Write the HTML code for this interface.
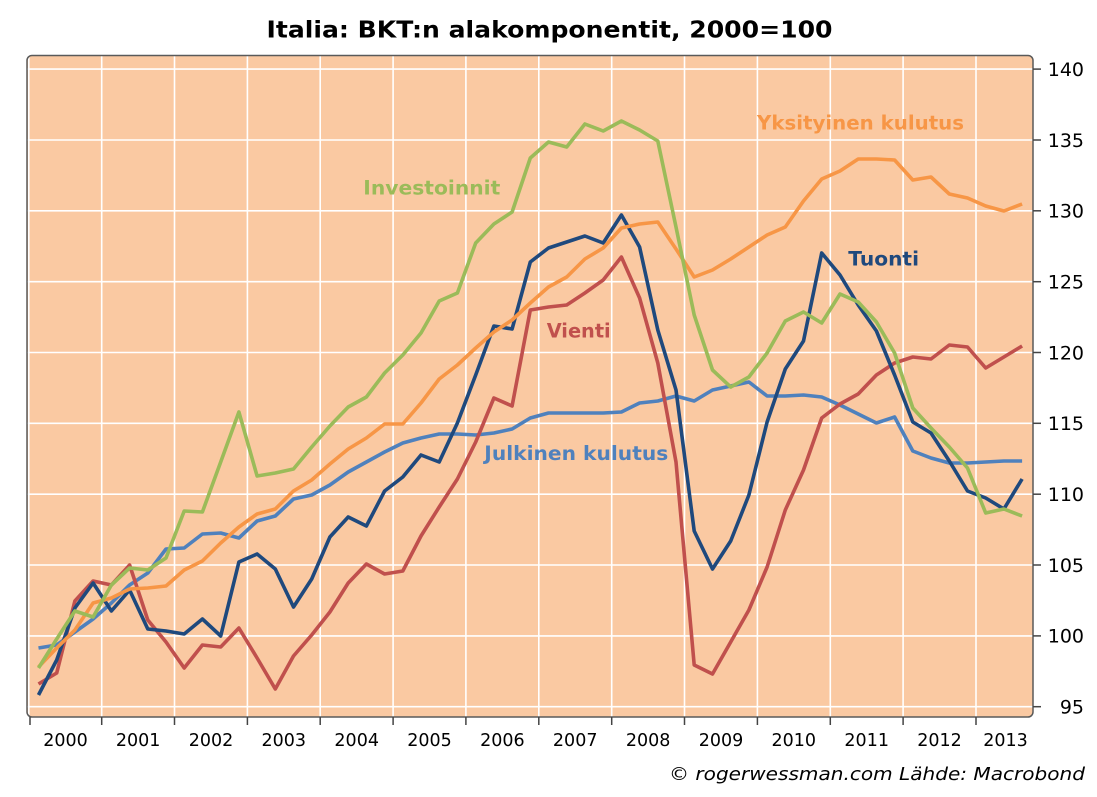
<!DOCTYPE html>
<html>
<head>
<meta charset="utf-8">
<style>
html,body{margin:0;padding:0;background:#ffffff;}
svg{display:block;}
text{font-family:"DejaVu Sans","Liberation Sans",sans-serif;}
</style>
</head>
<body>
<svg width="1097" height="797" viewBox="0 0 1097 797" xmlns="http://www.w3.org/2000/svg">
<rect x="0" y="0" width="1097" height="797" fill="#ffffff"/>
<!-- Title -->
<text x="266.5" y="37.7" font-size="23" font-weight="bold" fill="#000" textLength="566" lengthAdjust="spacingAndGlyphs">Italia: BKT:n alakomponentit, 2000=100</text>

<defs>
<clipPath id="pc"><rect x="27" y="55.5" width="1006" height="661.5" rx="5"/></clipPath>
</defs>

<!-- plot background -->
<rect x="27" y="55.5" width="1006" height="661.5" rx="5" fill="#FAC9A2"/>

<g clip-path="url(#pc)">
<!-- horizontal grid -->
<g stroke="#ffffff" stroke-width="1.6">
<line x1="27" x2="1033" y1="706.7" y2="706.7"/>
<line x1="27" x2="1033" y1="635.9" y2="635.9"/>
<line x1="27" x2="1033" y1="565.0" y2="565.0"/>
<line x1="27" x2="1033" y1="494.2" y2="494.2"/>
<line x1="27" x2="1033" y1="423.3" y2="423.3"/>
<line x1="27" x2="1033" y1="352.5" y2="352.5"/>
<line x1="27" x2="1033" y1="281.7" y2="281.7"/>
<line x1="27" x2="1033" y1="210.8" y2="210.8"/>
<line x1="27" x2="1033" y1="140.0" y2="140.0"/>
<line x1="27" x2="1033" y1="69.1" y2="69.1"/>
</g>
<!-- vertical grid -->
<g stroke="#ffffff" stroke-width="1.6">
<line y1="55" y2="717" x1="28.8" x2="28.8"/>
<line y1="55" y2="717" x1="101.7" x2="101.7"/>
<line y1="55" y2="717" x1="174.5" x2="174.5"/>
<line y1="55" y2="717" x1="247.4" x2="247.4"/>
<line y1="55" y2="717" x1="320.2" x2="320.2"/>
<line y1="55" y2="717" x1="393.1" x2="393.1"/>
<line y1="55" y2="717" x1="465.9" x2="465.9"/>
<line y1="55" y2="717" x1="538.8" x2="538.8"/>
<line y1="55" y2="717" x1="611.7" x2="611.7"/>
<line y1="55" y2="717" x1="684.5" x2="684.5"/>
<line y1="55" y2="717" x1="757.4" x2="757.4"/>
<line y1="55" y2="717" x1="830.3" x2="830.3"/>
<line y1="55" y2="717" x1="903.1" x2="903.1"/>
<line y1="55" y2="717" x1="976.0" x2="976.0"/>
</g>

<g fill="none" stroke-width="3.6" stroke-linejoin="round" stroke-linecap="butt">
<!-- Julkinen kulutus -->
<polyline stroke="#4F81BD" points="38.5,648 56.7,645 74.9,632 93.1,619 111.4,603 129.6,585 147.8,573 166.0,549 184.2,548 202.4,534 220.7,533 238.9,538 257.1,521 275.3,516 293.5,499 311.7,495 329.9,485 348.2,472 366.4,462 384.6,452 402.8,443 421.0,438 439.2,434 457.4,434 475.7,435 493.9,433 512.1,429 530.3,418 548.5,413 566.7,413 584.9,413 603.2,413 621.4,412 639.6,403 657.8,401 676.0,396 694.2,401 712.5,390 730.7,386 748.9,382 767.1,396 785.3,396 803.5,395 821.7,397 840.0,405 858.2,414 876.4,423 894.6,417 912.8,451 931.0,458 949.3,463 967.5,463 985.7,462 1003.9,461 1022.1,461"/>
<!-- Vienti -->
<polyline stroke="#C0504D" points="38.5,684 56.7,673 74.9,601 93.1,581 111.4,585 129.6,565 147.8,620 166.0,642 184.2,668 202.4,645 220.7,647 238.9,628 257.1,658 275.3,689 293.5,656 311.7,635 329.9,612 348.2,583 366.4,564 384.6,574 402.8,571 421.0,536 439.2,507 457.4,479 475.7,442 493.9,398 512.1,406 530.3,310 548.5,307 566.7,305 584.9,293 603.2,280 621.4,257 639.6,298 657.8,363 676.0,462 694.2,665 712.5,674 730.7,642 748.9,610 767.1,567 785.3,510 803.5,470 821.7,418 840.0,404 858.2,394 876.4,375 894.6,363 912.8,357 931.0,359 949.3,345 967.5,347 985.7,368 1003.9,357 1022.1,346"/>
<!-- Tuonti -->
<polyline stroke="#1F497D" points="38.5,695 56.7,660 74.9,608 93.1,583 111.4,611 129.6,590 147.8,629 166.0,631 184.2,634 202.4,619 220.7,636 238.9,562 257.1,554 275.3,569 293.5,607 311.7,579 329.9,537 348.2,517 366.4,526 384.6,491 402.8,477 421.0,455 439.2,462 457.4,423 475.7,375 493.9,326 512.1,329 530.3,262 548.5,248 566.7,242 584.9,236 603.2,243 621.4,215 639.6,247 657.8,330 676.0,390 694.2,531 712.5,569 730.7,541 748.9,495 767.1,422 785.3,369 803.5,341 821.7,253 840.0,275 858.2,305 876.4,331 894.6,375 912.8,422 931.0,433 949.3,461 967.5,491 985.7,498 1003.9,509 1022.1,479"/>
<!-- Yksityinen kulutus -->
<polyline stroke="#F79646" points="38.5,667 56.7,648 74.9,630 93.1,603 111.4,598 129.6,589 147.8,588 166.0,586 184.2,570 202.4,561 220.7,543 238.9,527 257.1,514 275.3,509 293.5,491 311.7,480 329.9,464 348.2,449 366.4,438 384.6,424 402.8,424 421.0,403 439.2,379 457.4,365 475.7,348 493.9,332 512.1,320 530.3,303 548.5,287 566.7,277 584.9,259 603.2,248 621.4,228 639.6,224 657.8,222 676.0,249 694.2,277 712.5,270 730.7,259 748.9,247 767.1,235 785.3,227 803.5,201 821.7,179 840.0,171 858.2,159 876.4,159 894.6,160 912.8,180 931.0,177 949.3,194 967.5,198 985.7,206 1003.9,211 1022.1,204"/>
<!-- Investoinnit -->
<polyline stroke="#9BBB59" points="38.5,668 56.7,639 74.9,611 93.1,617 111.4,585 129.6,568 147.8,570 166.0,558 184.2,511 202.4,512 220.7,462 238.9,412 257.1,476 275.3,473 293.5,469 311.7,447 329.9,426 348.2,407 366.4,397 384.6,373 402.8,355 421.0,333 439.2,301 457.4,293 475.7,243 493.9,224 512.1,212 530.3,158 548.5,142 566.7,147 584.9,124 603.2,131 621.4,121 639.6,130 657.8,141 676.0,227 694.2,315 712.5,370 730.7,387 748.9,377 767.1,353 785.3,321 803.5,312 821.7,323 840.0,294 858.2,302 876.4,322 894.6,353 912.8,408 931.0,428 949.3,447 967.5,468 985.7,513 1003.9,509 1022.1,516"/>
</g>

<!-- annotations -->
<g font-weight="bold" font-size="19.5">
<text x="363.3" y="194.3" fill="#9BBB59" textLength="137" lengthAdjust="spacingAndGlyphs">Investoinnit</text>
<text x="757" y="129.5" fill="#F79646" textLength="207" lengthAdjust="spacingAndGlyphs">Yksityinen kulutus</text>
<text x="848.3" y="265.7" fill="#1F497D" textLength="70.7" lengthAdjust="spacingAndGlyphs">Tuonti</text>
<text x="546.7" y="337.3" fill="#C0504D" textLength="64" lengthAdjust="spacingAndGlyphs">Vienti</text>
<text x="484.3" y="460" fill="#4F81BD" textLength="184" lengthAdjust="spacingAndGlyphs">Julkinen kulutus</text>
</g>
</g>

<!-- frame -->
<rect x="27" y="55.5" width="1006" height="661.5" rx="5" fill="none" stroke="#5a5a5a" stroke-width="1.5"/>

<!-- right ticks -->
<g stroke="#444" stroke-width="1.5">
<line x1="1033" x2="1041" y1="706.7" y2="706.7"/>
<line x1="1033" x2="1041" y1="635.9" y2="635.9"/>
<line x1="1033" x2="1041" y1="565.0" y2="565.0"/>
<line x1="1033" x2="1041" y1="494.2" y2="494.2"/>
<line x1="1033" x2="1041" y1="423.3" y2="423.3"/>
<line x1="1033" x2="1041" y1="352.5" y2="352.5"/>
<line x1="1033" x2="1041" y1="281.7" y2="281.7"/>
<line x1="1033" x2="1041" y1="210.8" y2="210.8"/>
<line x1="1033" x2="1041" y1="140.0" y2="140.0"/>
<line x1="1033" x2="1041" y1="69.1" y2="69.1"/>
</g>
<!-- bottom ticks -->
<g stroke="#444" stroke-width="1.5">
<line y1="717" y2="725" x1="30" x2="30"/>
<line y1="717" y2="725" x1="101.7" x2="101.7"/>
<line y1="717" y2="725" x1="174.5" x2="174.5"/>
<line y1="717" y2="725" x1="247.4" x2="247.4"/>
<line y1="717" y2="725" x1="320.2" x2="320.2"/>
<line y1="717" y2="725" x1="393.1" x2="393.1"/>
<line y1="717" y2="725" x1="465.9" x2="465.9"/>
<line y1="717" y2="725" x1="538.8" x2="538.8"/>
<line y1="717" y2="725" x1="611.7" x2="611.7"/>
<line y1="717" y2="725" x1="684.5" x2="684.5"/>
<line y1="717" y2="725" x1="757.4" x2="757.4"/>
<line y1="717" y2="725" x1="830.3" x2="830.3"/>
<line y1="717" y2="725" x1="903.1" x2="903.1"/>
<line y1="717" y2="725" x1="976.0" x2="976.0"/>
</g>

<!-- right axis labels -->
<g font-size="19" fill="#000" text-anchor="end">
<text x="1084" y="713.5">95</text>
<text x="1084" y="642.7">100</text>
<text x="1084" y="571.8">105</text>
<text x="1084" y="501.0">110</text>
<text x="1084" y="430.1">115</text>
<text x="1084" y="359.3">120</text>
<text x="1084" y="288.5">125</text>
<text x="1084" y="217.6">130</text>
<text x="1084" y="146.8">135</text>
<text x="1084" y="75.9">140</text>
</g>

<!-- x labels -->
<g font-size="17.5" fill="#000" text-anchor="middle">
<text x="65.5" y="746">2000</text>
<text x="138.1" y="746">2001</text>
<text x="211" y="746">2002</text>
<text x="283.8" y="746">2003</text>
<text x="356.7" y="746">2004</text>
<text x="429.5" y="746">2005</text>
<text x="502.4" y="746">2006</text>
<text x="575.2" y="746">2007</text>
<text x="648.1" y="746">2008</text>
<text x="721" y="746">2009</text>
<text x="793.8" y="746">2010</text>
<text x="866.7" y="746">2011</text>
<text x="939.5" y="746">2012</text>
<text x="1005.5" y="746">2013</text>
</g>

<!-- footer -->
<text x="669" y="780" font-size="18" font-style="italic" fill="#000" textLength="416" lengthAdjust="spacingAndGlyphs">© rogerwessman.com Lähde: Macrobond</text>
</svg>
</body>
</html>
